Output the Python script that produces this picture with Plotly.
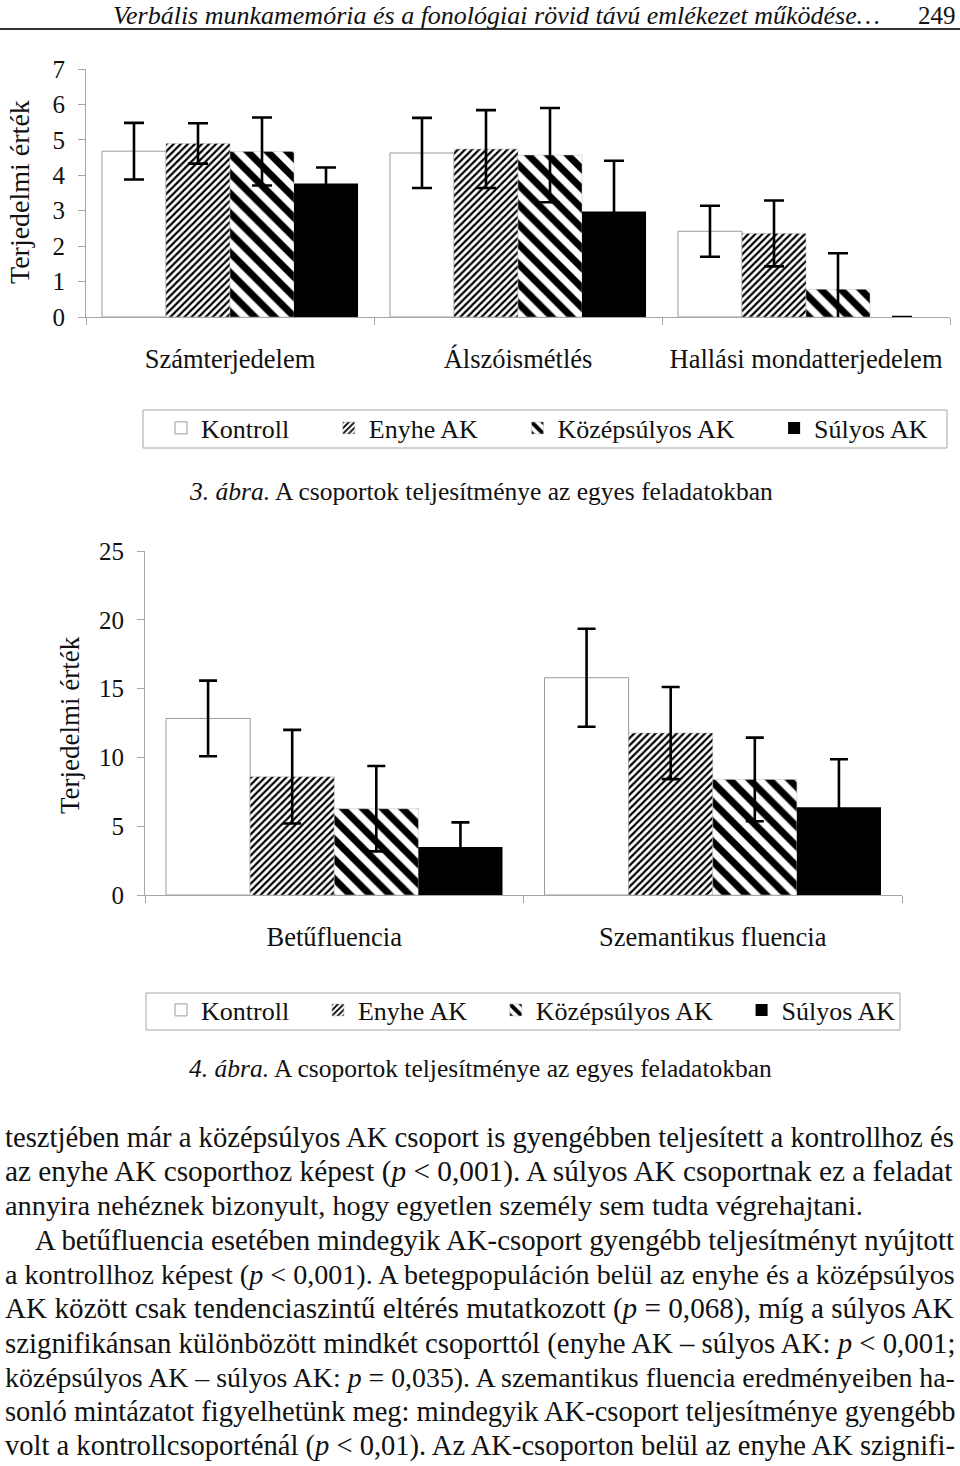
import plotly.graph_objects as go

W, H = 960, 1466
FONT = "Liberation Serif"
INK = "#111111"
AXIS = "#a6a6a6"


def X(px):
    return px / W


def Y(py):
    return 1 - py / H


# ---------------- data ----------------
groups = ["Kontroll", "Enyhe AK", "Középsúlyos AK", "Súlyos AK"]

tasks1 = ["Számterjedelem", "Álszóismétlés", "Hallási mondatterjedelem"]
kontroll1 = [4.68, 4.63, 2.42]
kontroll1_err = [0.80, 0.99, 0.72]
enyhe1 = [4.90, 4.74, 2.36]
enyhe1_err = [0.57, 1.10, 0.93]
kozep1 = [4.67, 4.57, 0.78]
kozep1_err = [0.96, 1.33, 1.02]
sulyos1 = [3.77, 2.98, 0.0]
sulyos1_err = [0.45, 1.43, 0.0]

tasks2 = ["Betűfluencia", "Szemantikus fluencia"]
kontroll2 = [12.83, 15.79]
kontroll2_err = [2.75, 3.56]
enyhe2 = [8.60, 11.77]
enyhe2_err = [3.40, 3.35]
kozep2 = [6.27, 8.40]
kozep2_err = [3.10, 3.04]
sulyos2 = [3.49, 6.37]
sulyos2_err = [1.79, 3.50]

y1_ticks = [0, 1, 2, 3, 4, 5, 6, 7]
y2_ticks = [0, 5, 10, 15, 20, 25]

header = "Verbális munkamemória és a fonológiai rövid távú emlékezet működése…"
page_no = "249"
ytitle = "Terjedelmi érték"
caption3 = "<i>3. ábra.</i> A csoportok teljesítménye az egyes feladatokban"
caption4 = "<i>4. ábra.</i> A csoportok teljesítménye az egyes feladatokban"
body = [
    "tesztjében már a középsúlyos AK csoport is gyengébben teljesített a kontrollhoz és",
    "az enyhe AK csoporthoz képest (<i>p</i> &lt; 0,001). A súlyos AK csoportnak ez a feladat",
    "annyira nehéznek bizonyult, hogy egyetlen személy sem tudta végrehajtani.",
    "A betűfluencia esetében mindegyik AK-csoport gyengébb teljesítményt nyújtott",
    "a kontrollhoz képest (<i>p</i> &lt; 0,001). A betegpopuláción belül az enyhe és a középsúlyos",
    "AK között csak tendenciaszintű eltérés mutatkozott (<i>p</i> = 0,068), míg a súlyos AK",
    "szignifikánsan különbözött mindkét csoporttól (enyhe AK – súlyos AK: <i>p</i> &lt; 0,001;",
    "középsúlyos AK – súlyos AK: <i>p</i> = 0,035). A szemantikus fluencia eredményeiben ha-",
    "sonló mintázatot figyelhetünk meg: mindegyik AK-csoport teljesítménye gyengébb",
    "volt a kontrollcsoporténál (<i>p</i> &lt; 0,01). Az AK-csoporton belül az enyhe AK szignifi-",
]
# per-line size so the justified lines reach the right margin
body_size = [28.7, 29.3, 28.35, 28.8, 28.1, 29.2, 28.8, 27.85, 28.5, 28.55]
body_x = [3, 3, 3, 33, 3, 3, 3, 3, 3, 3]
body_y = [1137, 1171, 1205, 1240, 1274, 1308, 1343, 1377, 1411, 1446]

# ---------------- styles ----------------
styles = {
    "Kontroll": dict(color="white", line=dict(color="#9a9a9a", width=1)),
    "Enyhe AK": dict(color="white", line=dict(color="#bbbbbb", width=0.5),
                     pattern=dict(shape="/", size=5, solidity=0.45,
                                  fgcolor="black", bgcolor="white", fillmode="replace")),
    "Középsúlyos AK": dict(color="white", line=dict(color="#bbbbbb", width=0.5),
                           pattern=dict(shape="\\", size=14, solidity=0.5,
                                        fgcolor="black", bgcolor="white", fillmode="replace")),
    "Súlyos AK": dict(color="black", line=dict(color="black", width=0)),
}

fig = go.Figure()

series1 = [(kontroll1, kontroll1_err), (enyhe1, enyhe1_err), (kozep1, kozep1_err), (sulyos1, sulyos1_err)]
series2 = [(kontroll2, kontroll2_err), (enyhe2, enyhe2_err), (kozep2, kozep2_err), (sulyos2, sulyos2_err)]

gap1 = "\u00a0" * 5 + "\u200a"
gap2 = "\u00a0" * 3 + "\u2006"
pads1 = [gap1, gap1, gap1, ""]
pads2 = [gap2, gap2, gap2, ""]

for g, (vals, errs), p in zip(groups, series1, pads1):
    fig.add_trace(go.Bar(
        x=tasks1, y=vals, name=g + p, marker=styles[g],
        error_y=dict(type="data", array=errs, visible=True, color="black", thickness=2.6, width=10),
        xaxis="x", yaxis="y", legend="legend", hoverinfo="skip",
    ))

for g, (vals, errs), p in zip(groups, series2, pads2):
    fig.add_trace(go.Bar(
        x=tasks2, y=vals, name=g + p, marker=styles[g],
        error_y=dict(type="data", array=errs, visible=True, color="black", thickness=2.6, width=9),
        xaxis="x2", yaxis="y2", legend="legend2", hoverinfo="skip",
    ))

axis_common = dict(showgrid=False, zeroline=False, showline=True, linecolor=AXIS, linewidth=1,
                   ticks="outside", tickcolor=AXIS, ticklen=7, tickwidth=1)

fig.update_layout(
    width=W, height=H, margin=dict(l=0, r=0, t=0, b=0, pad=0, autoexpand=False),
    paper_bgcolor="white", plot_bgcolor="white",
    barmode="group", bargap=0.111, bargroupgap=0,
    font=dict(family=FONT, color=INK),
    xaxis=dict(domain=[X(86), X(950)], anchor="y", tickson="boundaries",
               tickfont=dict(family=FONT, size=26.5, color=INK), ticklabelstandoff=18, **axis_common),
    yaxis=dict(domain=[Y(317), Y(69)], anchor="x", range=[0, 7], tickvals=y1_ticks,
               tickfont=dict(family=FONT, size=25, color=INK), ticklabelstandoff=8, **axis_common),
    xaxis2=dict(domain=[X(145), X(902)], anchor="y2", tickson="boundaries",
                tickfont=dict(family=FONT, size=26.5, color=INK), ticklabelstandoff=18, **axis_common),
    yaxis2=dict(domain=[Y(895), Y(551)], anchor="x2", range=[0, 25], tickvals=y2_ticks,
                tickfont=dict(family=FONT, size=25, color=INK), ticklabelstandoff=8, **axis_common),
    legend=dict(orientation="h", x=X(161), xanchor="left", y=Y(428), yanchor="middle",
                font=dict(family=FONT, size=26, color=INK), bgcolor="rgba(0,0,0,0)",
                borderwidth=0, itemwidth=30, traceorder="normal"),
    legend2=dict(orientation="h", x=X(161), xanchor="left", y=Y(1010), yanchor="middle",
                 font=dict(family=FONT, size=26, color=INK), bgcolor="rgba(0,0,0,0)",
                 borderwidth=0, itemwidth=30, traceorder="normal"),
)

shapes = [
    dict(type="line", xref="paper", yref="paper", x0=0, x1=1, y0=Y(29), y1=Y(29),
         line=dict(color="#333333", width=2)),
    dict(type="rect", xref="paper", yref="paper", x0=X(143), x1=X(947), y0=Y(448), y1=Y(410),
         line=dict(color=AXIS, width=1)),
    dict(type="rect", xref="paper", yref="paper", x0=X(146), x1=X(900), y0=Y(1030), y1=Y(993),
         line=dict(color=AXIS, width=1)),
]


def txt(text, x, y, size, xanchor="left", angle=0):
    return dict(text=text, x=X(x), y=Y(y), xref="paper", yref="paper", showarrow=False,
                xanchor=xanchor, yanchor="middle", textangle=angle,
                font=dict(family=FONT, size=size, color=INK))


ann = [
    txt("<i>" + header + "</i>", 882, 15, 26, "right"),
    txt(page_no, 958, 15, 25, "right"),
    txt(ytitle, 20, 192, 28, "center", -90),
    txt(ytitle, 70, 725, 27, "center", -90),
    txt(caption3, 187, 491, 25.5),
    txt(caption4, 187, 1068, 25.5),
]
for line, xx, yy, sz in zip(body, body_x, body_y, body_size):
    ann.append(txt(line, xx, yy, sz))

fig.update_layout(shapes=shapes, annotations=ann)
fig.write_html("out.html", config={"displayModeBar": False},
               post_script="document.body.style.margin='0px';")
